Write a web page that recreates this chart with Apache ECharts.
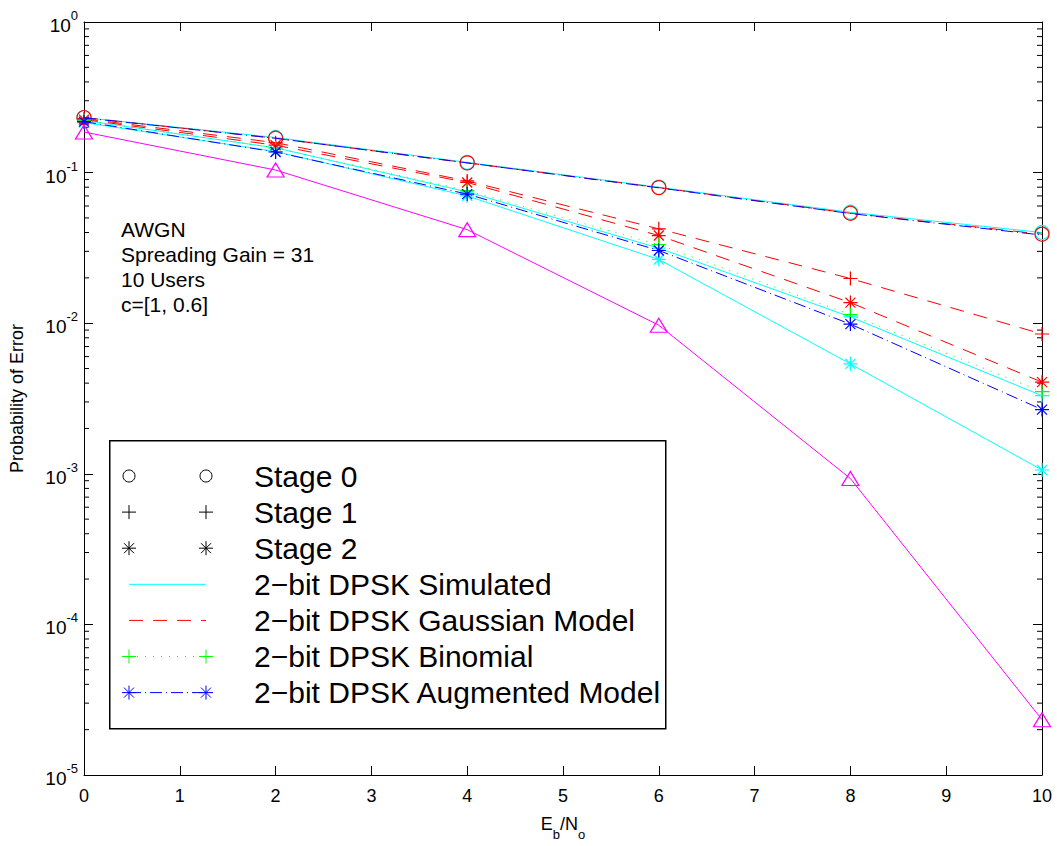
<!DOCTYPE html>
<html>
<head>
<meta charset="utf-8">
<script src="https://cdn.jsdelivr.net/npm/echarts@6/dist/echarts.min.js"></script>
<style>
  html, body { margin: 0; padding: 0; background: #fff; }
  #chart { width: 1057px; height: 846px; }
</style>
</head>
<body>
<div id="chart"></div>
<script>
// Eb/No values (dB) at which the error probabilities were evaluated
const ebno = [0, 2, 4, 6, 8, 10];

// 2-bit DPSK, simulated
const simStage0 = [0.232, 0.171, 0.117, 0.0800, 0.0545, 0.0400];
const simStage1 = [0.222, 0.146, 0.0745, 0.0315, 0.0110, 0.0033];
const simStage2 = [0.215, 0.138, 0.0700, 0.0265, 0.00537, 0.00106];
// 2-bit DPSK, Gaussian model
const gaussStage0 = [0.232, 0.169, 0.116, 0.0795, 0.0537, 0.0390];
const gaussStage1 = [0.228, 0.158, 0.0880, 0.0423, 0.0198, 0.00848];
const gaussStage2 = [0.225, 0.152, 0.0860, 0.0382, 0.0137, 0.00406];
// 2-bit DPSK, binomial model
const binomStage1 = [0.223, 0.146, 0.0760, 0.0332, 0.0114, 0.00351];
// 2-bit DPSK, augmented model
const augStage0 = [0.231, 0.169, 0.116, 0.0792, 0.0535, 0.0385];
const augStage2 = [0.218, 0.137, 0.0720, 0.0304, 0.00986, 0.00267];
// single-user reference curve
const singleUser = [0.186, 0.104, 0.0418, 0.0097, 0.00093, 0.0000233];

const legendLabels = ['Stage 0', 'Stage 1', 'Stage 2',
  '2\u2212bit DPSK Simulated', '2\u2212bit DPSK Gaussian Model',
  '2\u2212bit DPSK Binomial', '2\u2212bit DPSK Augmented Model'];

const annotationLines = ['AWGN', 'Spreading Gain = 31', '10 Users', 'c=[1, 0.6]'];

const CYAN = '#00ffff', RED = '#ff0000', GREEN = '#00ff00', BLUE = '#0000ff', MAGENTA = '#ff00ff';
const FONT = 'Liberation Sans, Arial, Helvetica, sans-serif';

// marker shapes (MATLAB-like '+' and '*')
const PLUS = 'path://M7,0L7,14M0,7L14,7';
const STAR = 'path://M7,0L7,14M0,7L14,7M2,2L12,12M12,2L2,12';

function pairs(ys) { return ebno.map((x, i) => [x, ys[i]]); }

function curve(name, ys, color, lineType, symbol, symSize, z) {
  const hasMarker = symbol !== 'none';
  return {
    name: name,
    type: 'line',
    data: pairs(ys),
    z: z,
    symbol: symbol,
    symbolSize: symSize,
    showSymbol: hasMarker,
    silent: true,
    animation: false,
    lineStyle: { color: color, width: 1, type: lineType },
    itemStyle: { color: 'rgba(0,0,0,0)', borderColor: color, borderWidth: 1.2 }
  };
}

// minor ticks of the log axis at 2..9 x 10^k
const minorTickValues = [];
for (let k = -5; k < 0; k++) {
  for (let m = 2; m <= 9; m++) minorTickValues.push(m * Math.pow(10, k));
}

const chart = echarts.init(document.getElementById('chart'), null, { renderer: 'svg' });

const axisLineStyle = { color: '#000', width: 1 };

const option = {
  backgroundColor: '#fff',
  animation: false,
  grid: { left: 81, right: 15, top: 22, bottom: 67, containLabel: false },
  xAxis: [{
    type: 'value', min: 0, max: 10, interval: 1, position: 'bottom',
    axisLine: { show: true, lineStyle: axisLineStyle, onZero: false },
    axisTick: { show: true, inside: true, length: 9, lineStyle: axisLineStyle },
    axisLabel: { color: '#000', fontSize: 18, fontFamily: FONT, margin: 12 },
    splitLine: { show: false },
    name: '{n|E}{s|b}{n|/N}{s|o}',
    nameLocation: 'middle', nameGap: 40,
    nameTextStyle: {
      color: '#000', fontFamily: FONT,
      rich: {
        n: { fontSize: 18, fontFamily: FONT, color: '#000', lineHeight: 22, verticalAlign: 'top' },
        s: { fontSize: 13, fontFamily: FONT, color: '#000', lineHeight: 22, verticalAlign: 'bottom', padding: [0, 0, -4, 0] }
      }
    }
  }, {
    type: 'value', min: 0, max: 10, interval: 1, position: 'top',
    axisLine: { show: true, lineStyle: axisLineStyle, onZero: false },
    axisTick: { show: true, inside: true, length: 9, lineStyle: axisLineStyle },
    axisLabel: { show: false }, splitLine: { show: false }
  }],
  yAxis: [{
    type: 'log', logBase: 10, min: 1e-5, max: 1, position: 'left',
    axisLine: { show: true, lineStyle: axisLineStyle, onZero: false },
    axisTick: { show: true, inside: true, length: 9, lineStyle: axisLineStyle },
    splitLine: { show: false },
    axisLabel: {
      margin: 6, fontFamily: FONT,
      formatter: function (v) {
        const e = Math.round(Math.log10(v));
        return '{b|10}{e|' + (e === 0 ? '0' : '-' + (-e)) + '}';
      },
      rich: {
        b: { fontSize: 19, fontFamily: FONT, color: '#000', padding: [7, 0, 0, 0] },
        e: { fontSize: 13, fontFamily: FONT, color: '#000', verticalAlign: 'top' }
      }
    },
    name: 'Probability of Error', nameLocation: 'middle', nameGap: 58, nameRotate: 90,
    nameTextStyle: { color: '#000', fontSize: 18, fontFamily: FONT }
  }, {
    type: 'log', logBase: 10, min: 1e-5, max: 1, position: 'right',
    axisLine: { show: true, lineStyle: axisLineStyle, onZero: false },
    axisTick: { show: true, inside: true, length: 9, lineStyle: axisLineStyle },
    axisLabel: { show: false }, splitLine: { show: false }
  }],
  series: [
    // minor ticks on both vertical edges
    {
      type: 'custom', silent: true, animation: false, z: 1,
      data: minorTickValues.map(v => [0, v]),
      renderItem: function (params, api) {
        const cs = params.coordSys;
        const y = api.coord([0, api.value(1)])[1];
        const st = { stroke: '#000', lineWidth: 1 };
        return {
          type: 'group', children: [
            { type: 'line', shape: { x1: cs.x, y1: y, x2: cs.x + 5, y2: y }, style: st },
            { type: 'line', shape: { x1: cs.x + cs.width - 5, y1: y, x2: cs.x + cs.width, y2: y }, style: st }
          ]
        };
      }
    },
    curve('sim0', simStage0, CYAN, 'solid', 'circle', 14, 2),
    curve('sim1', simStage1, CYAN, 'solid', PLUS, 14, 2),
    curve('sim2', simStage2, CYAN, 'solid', STAR, 14, 2),
    curve('gauss0', gaussStage0, RED, [14, 10], 'circle', 14, 3),
    curve('gauss1', gaussStage1, RED, [14, 10], PLUS, 14, 3),
    curve('gauss2', gaussStage2, RED, [14, 10], STAR, 14, 3),
    curve('binom1', binomStage1, GREEN, [1, 7], PLUS, 14, 4),
    curve('aug0', augStage0, BLUE, [12, 4, 1, 4], 'none', 14, 5),
    curve('aug2', augStage2, BLUE, [12, 4, 1, 4], STAR, 14, 5),
    curve('single', singleUser, MAGENTA, 'solid', 'triangle', [17, 14], 6)
  ]
};

// legend box in the MATLAB style: marker / line sample / marker, then label
const LG = { left: 109, top: 440, width: 556, height: 288, row0: 476, rowStep: 36.1, x1: 129, x2: 206, tx: 254 };
const legendSamples = [
  { sym: 'circle', color: '#000', line: null },
  { sym: 'plus', color: '#000', line: null },
  { sym: 'star', color: '#000', line: null },
  { sym: null, color: CYAN, line: null },
  { sym: null, color: RED, line: [14, 10] },
  { sym: 'plus', color: GREEN, line: [1, 7] },
  { sym: 'star', color: BLUE, line: [12, 4, 1, 4] }
];

function markerGraphics(kind, cx, cy, color, z) {
  const st = { stroke: color, lineWidth: 1, fill: null };
  if (kind === 'circle') return [{ type: 'circle', z: z, shape: { cx: cx, cy: cy, r: 6 }, style: st }];
  const d = 7;
  const segs = [[cx - d, cy, cx + d, cy], [cx, cy - d, cx, cy + d]];
  if (kind === 'star') { const k = 5; segs.push([cx - k, cy - k, cx + k, cy + k], [cx + k, cy - k, cx - k, cy + k]); }
  return segs.map(s => ({ type: 'line', z: z, shape: { x1: s[0], y1: s[1], x2: s[2], y2: s[3] }, style: st }));
}

const graphics = [{
  type: 'rect', left: LG.left, top: LG.top, z: 20,
  shape: { width: LG.width, height: LG.height },
  style: { fill: '#fff', stroke: '#000', lineWidth: 1.5 }
}];
legendLabels.forEach((label, i) => {
  const y = LG.row0 + i * LG.rowStep;
  const s = legendSamples[i];
  if (i >= 3) {
    graphics.push({ type: 'line', z: 21, shape: { x1: LG.x1, y1: y, x2: LG.x2, y2: y },
      style: { stroke: s.color, lineWidth: 1, lineDash: s.line || null } });
  }
  if (s.sym) {
    markerGraphics(s.sym, LG.x1, y, s.color, 22).forEach(g => graphics.push(g));
    markerGraphics(s.sym, LG.x2, y, s.color, 22).forEach(g => graphics.push(g));
  }
  graphics.push({ type: 'text', z: 22, x: LG.tx, y: y,
    style: { text: label, fill: '#000', font: '30px ' + FONT, verticalAlign: 'middle' } });
});
annotationLines.forEach((t, i) => {
  graphics.push({ type: 'text', z: 10, x: 121, y: 229 + i * 25,
    style: { text: t, fill: '#000', font: '21px ' + FONT, verticalAlign: 'middle' } });
});
option.graphic = graphics;

chart.setOption(option);
</script>
</body>
</html>
